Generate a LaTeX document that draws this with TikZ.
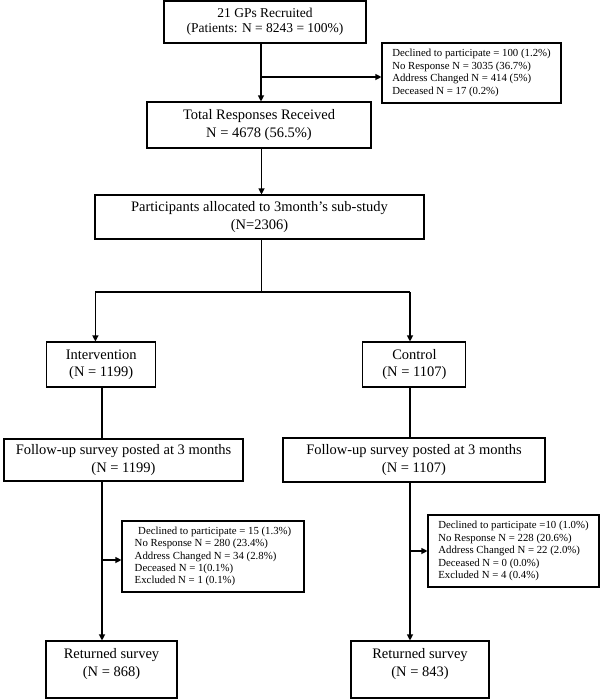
\documentclass[tikz,border=0pt]{standalone}
\usepackage{fontspec}
\setmainfont{Liberation Serif}
\usetikzlibrary{arrows.meta}
\begin{document}
\begin{tikzpicture}[x=1pt,y=-1pt,
  box/.style={draw,line width=1.1pt,inner sep=0pt,align=center,font=\fontsize{14.5}{17.5}\selectfont},
  txt/.style={inner sep=0pt,align=center,font=\fontsize{14.5}{17.5}\selectfont},
  side/.style={draw,line width=1.1pt,inner sep=0pt,align=left,font=\fontsize{10.8}{12.4}\selectfont},
  conn/.style={line width=1.1pt},
  arr/.style={line width=1.1pt,-{Triangle[length=6pt,width=6pt]}}]
\useasboundingbox (0,0) rectangle (600,699);
% main boxes
\node[box,font=\fontsize{13.5}{14.5}\selectfont,minimum width=202pt,minimum height=42pt] (gps) at (265,22) {21 GPs Recruited\\(Patients: N = 8243 = 100\%)};
\node[side,minimum width=179pt,minimum height=60pt] (ex1) at (471.5,73) {Declined to participate = 100 (1.2\%)\\No Response N = 3035 (36.7\%)\\Address Changed N = 414 (5\%)\\Deceased N = 17 (0.2\%)};
\node[box,minimum width=224pt,minimum height=46pt] (tot) at (259,125) {Total Responses Received\\N = 4678 (56.5\%)};
\node[box,minimum width=329pt,minimum height=44pt] (part) at (259.5,217) {Participants allocated to 3month’s sub-study\\(N=2306)};
\node[box,minimum width=109pt,minimum height=45pt] (int) at (101.2,364.5) {Intervention\\(N = 1199)};
\node[box,minimum width=103pt,minimum height=45pt] (con) at (414.4,364.5) {Control\\(N = 1107)};
\node[box,minimum width=239pt,minimum height=42pt] (fl) at (123.5,460) {Follow-up survey posted at 3 months\\(N = 1199)};
\node[box,minimum width=262pt,minimum height=44pt] (fr) at (414,460) {Follow-up survey posted at 3 months\\(N = 1107)};
\node[side,minimum width=182pt,minimum height=71pt] (exl) at (213,556.5) {\hspace*{3.5pt}Declined to participate = 15 (1.3\%)\\No Response N = 280 (23.4\%)\\Address Changed N = 34 (2.8\%)\\Deceased N = 1(0.1\%)\\Excluded N = 1 (0.1\%)};
\node[side,minimum width=171pt,minimum height=72pt] (exr) at (513.5,551) {Declined to participate =10 (1.0\%)\\No Response N = 228 (20.6\%)\\Address Changed N = 22 (2.0\%)\\Deceased N = 0 (0.0\%)\\Excluded N = 4 (0.4\%)};
\node[box,minimum width=131pt,minimum height=57pt,label={[txt,yshift=5.5pt]center:{Returned survey\\(N = 868)}}] (rl) at (111.5,669.5) {};
\node[box,minimum width=138pt,minimum height=57pt,label={[txt,yshift=5.5pt]center:{Returned survey\\(N = 843)}}] (rr) at (420,669.5) {};
% coordinates
\coordinate (b1) at (261,77);
\coordinate (sp) at (261.5,292);
\coordinate (spl) at (95.4,292);
\coordinate (spr) at (410,292);
\coordinate (bl) at (102,560);
\coordinate (br) at (410,551);
% connectors
\draw[arr] (gps.south -| b1) -- (tot.north -| b1);
\draw[arr] (b1) -- (ex1.west |- b1);
\draw[arr] (tot.south -| sp) -- (part.north -| sp);
\draw[conn] (part.south -| sp) -- (sp);
\draw[conn] (spl) -- (spr);
\draw[arr] (spl) -- (int.north -| spl);
\draw[arr] (spr) -- (con.north -| spr);
\draw[conn] (int.south -| bl) -- (fl.north -| bl);
\draw[conn] (con.south -| br) -- (fr.north -| br);
\draw[arr] (fl.south -| bl) -- (rl.north -| bl);
\draw[arr] (fr.south -| br) -- (rr.north -| br);
\draw[arr] (bl) -- (exl.west |- bl);
\draw[arr] (br) -- (exr.west |- br);
\end{tikzpicture}
\end{document}
